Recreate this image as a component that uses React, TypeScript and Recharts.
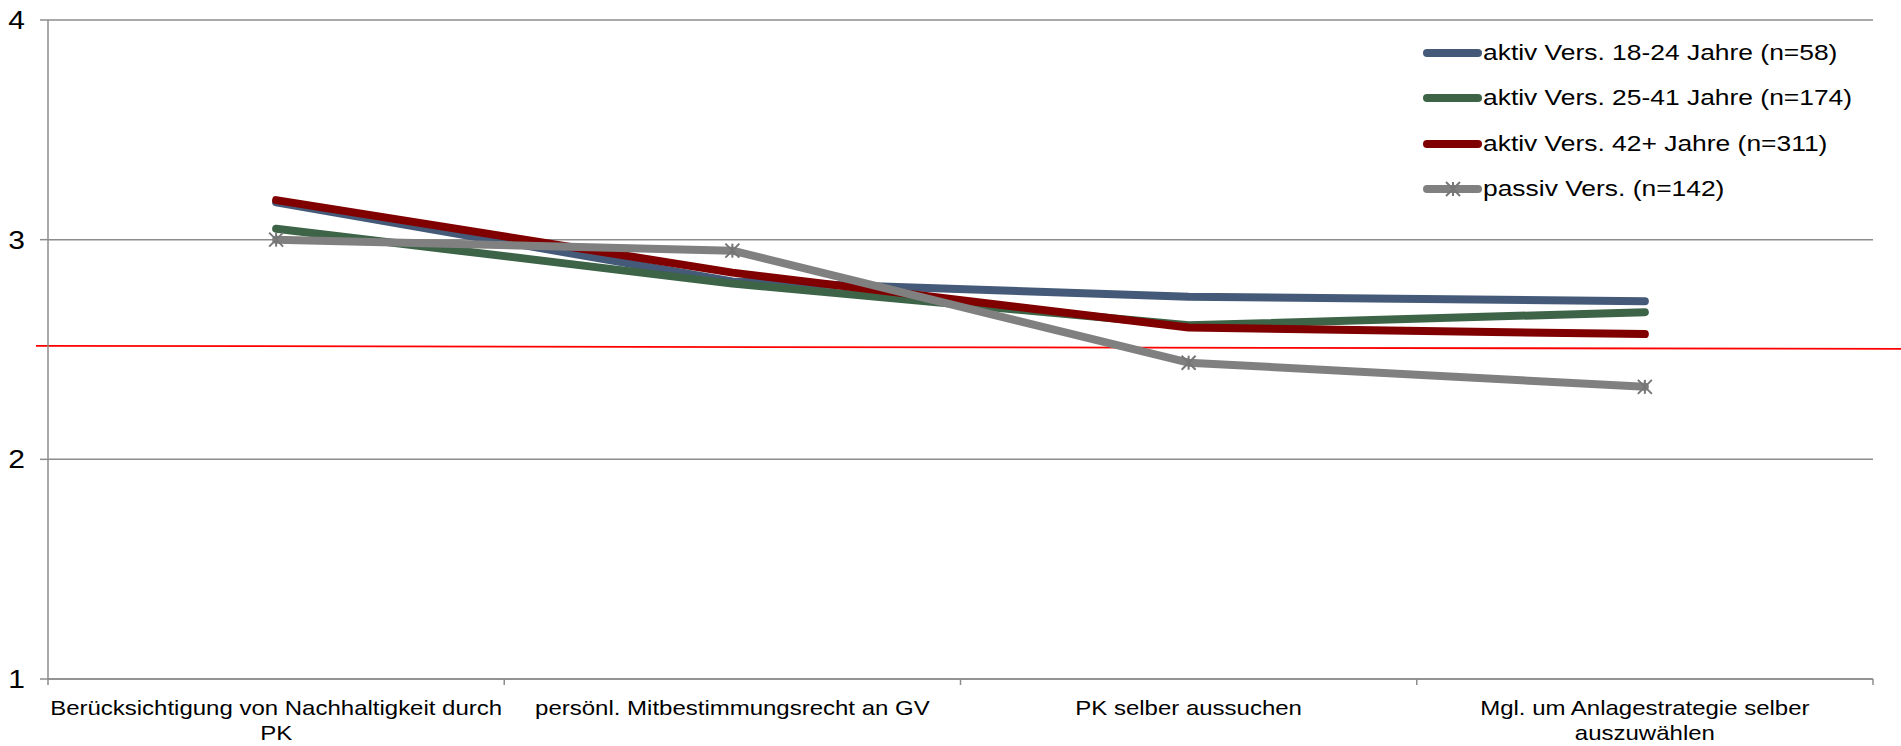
import React from "react";
import { LineChart, Line, XAxis, YAxis, CartesianGrid, ReferenceLine } from "recharts";

const categories = [
  "Berücksichtigung von Nachhaltigkeit durch\nPK",
  "persönl. Mitbestimmungsrecht an GV",
  "PK selber aussuchen",
  "Mgl. um Anlagestrategie selber\nauszuwählen",
];
const aktiv18to24 = [3.17, 2.81, 2.74, 2.72];
const aktiv25to41 = [3.05, 2.8, 2.61, 2.67];
const aktiv42plus = [3.18, 2.85, 2.6, 2.57];
const passiv = [3.0, 2.95, 2.44, 2.33];
const seriesNames = [
  "aktiv Vers. 18-24 Jahre (n=58)",
  "aktiv Vers. 25-41 Jahre (n=174)",
  "aktiv Vers. 42+ Jahre (n=311)",
  "passiv Vers. (n=142)",
];
const yTicks = [1, 2, 3, 4];
const referenceValue = 2.512;

const keys = ["a", "b", "c", "d"];
const colors = ["#445a78", "#3d6447", "#800000", "#808080"];

const data = categories.map((name, i) => ({
  name,
  a: aktiv18to24[i],
  b: aktiv25to41[i],
  c: aktiv42plus[i],
  d: passiv[i],
}));

const W = 1901;
const H = 746;
const LEFT = 48;
const RIGHT = 28;
const HALF_BAND = (W - LEFT - RIGHT) / categories.length / 2;
const FONT = "'Liberation Sans', Arial, sans-serif";
const AXIS = "#8c8c8c";
const STRETCH = 1.2; // the original text is a bit wider than plain Arial

function Star({ cx, cy }: any) {
  if (cx == null || cy == null) return null;
  const r = 7;
  return (
    <g stroke="#767676" strokeWidth={2}>
      <line x1={cx - r} y1={cy - r} x2={cx + r} y2={cy + r} />
      <line x1={cx - r} y1={cy + r} x2={cx + r} y2={cy - r} />
      <line x1={cx} y1={cy - r} x2={cx} y2={cy + r} />
    </g>
  );
}

function CategoryTick(props: any) {
  const { x, y, payload, index } = props;
  const lines = String(payload.value).split("\n");
  return (
    <g>
      <line x1={x - HALF_BAND} y1={y} x2={x - HALF_BAND} y2={y + 6} stroke={AXIS} strokeWidth={1.5} />
      {index === categories.length - 1 && (
        <line x1={x + HALF_BAND} y1={y} x2={x + HALF_BAND} y2={y + 6} stroke={AXIS} strokeWidth={1.5} />
      )}
      <g transform={`translate(${x},${y + 36}) scale(${STRETCH},1)`}>
        <text x={0} y={0} textAnchor="middle" fontSize={20} fontFamily={FONT} fill="#000">
          {lines.map((l, i) => (
            <tspan key={i} x={0} dy={i === 0 ? 0 : 25}>
              {l}
            </tspan>
          ))}
        </text>
      </g>
    </g>
  );
}

function ValueTick(props: any) {
  const { x, y, payload } = props;
  return (
    <g transform={`translate(${x},${y}) scale(${STRETCH},1)`}>
      <text x={0} y={0} dy={9} textAnchor="end" fontSize={25} fontFamily={FONT} fill="#000">
        {payload.value}
      </text>
    </g>
  );
}

function RedLine(p: any) {
  return <line x1={p.x1 - 12} y1={p.y1 - 1} x2={W} y2={p.y2 + 2} stroke="#ff0000" strokeWidth={1.8} />;
}

export default function App() {
  return (
    <div style={{ position: "absolute", left: 0, top: 0, width: W, height: H, background: "#fff", fontFamily: FONT }}>
      <LineChart width={W} height={H} data={data} margin={{ top: 20, right: RIGHT, left: 0, bottom: 0 }}>
        <CartesianGrid vertical={false} stroke={AXIS} strokeWidth={1.5} />
        <XAxis
          dataKey="name"
          interval={0}
          height={67}
          padding={{ left: HALF_BAND, right: HALF_BAND }}
          axisLine={{ stroke: AXIS, strokeWidth: 1.5 }}
          tickLine={false}
          tickSize={0}
          tickMargin={0}
          tick={<CategoryTick />}
        />
        <YAxis
          width={LEFT}
          domain={[1, 4]}
          ticks={yTicks}
          interval={0}
          axisLine={{ stroke: AXIS, strokeWidth: 1.5 }}
          tickLine={{ stroke: AXIS, strokeWidth: 1.5 }}
          tickSize={8}
          tickMargin={15}
          tick={<ValueTick />}
        />
        <ReferenceLine y={referenceValue} shape={<RedLine />} ifOverflow="extendDomain" />
        {keys.map((k, i) => (
          <Line
            key={k}
            type="linear"
            dataKey={k}
            name={seriesNames[i]}
            stroke={colors[i]}
            strokeWidth={8}
            strokeLinecap="round"
            strokeLinejoin="round"
            dot={i === 3 ? <Star /> : false}
            activeDot={false}
            isAnimationActive={false}
          />
        ))}
      </LineChart>
      <div style={{ position: "absolute", left: 1418, top: 30 }}>
        {seriesNames.map((n, i) => (
          <div key={n} style={{ display: "flex", alignItems: "center", height: 45.5 }}>
            <svg width={66} height={20}>
              <line x1={9} y1={10} x2={60} y2={10} stroke={colors[i]} strokeWidth={8} strokeLinecap="round" />
              {i === 3 && <Star cx={35} cy={10} />}
            </svg>
            <span
              style={{
                fontSize: 22,
                color: "#000",
                marginLeft: -1,
                display: "inline-block",
                whiteSpace: "nowrap",
                transform: `scaleX(${STRETCH})`,
                transformOrigin: "left center",
              }}
            >
              {n}
            </span>
          </div>
        ))}
      </div>
    </div>
  );
}
